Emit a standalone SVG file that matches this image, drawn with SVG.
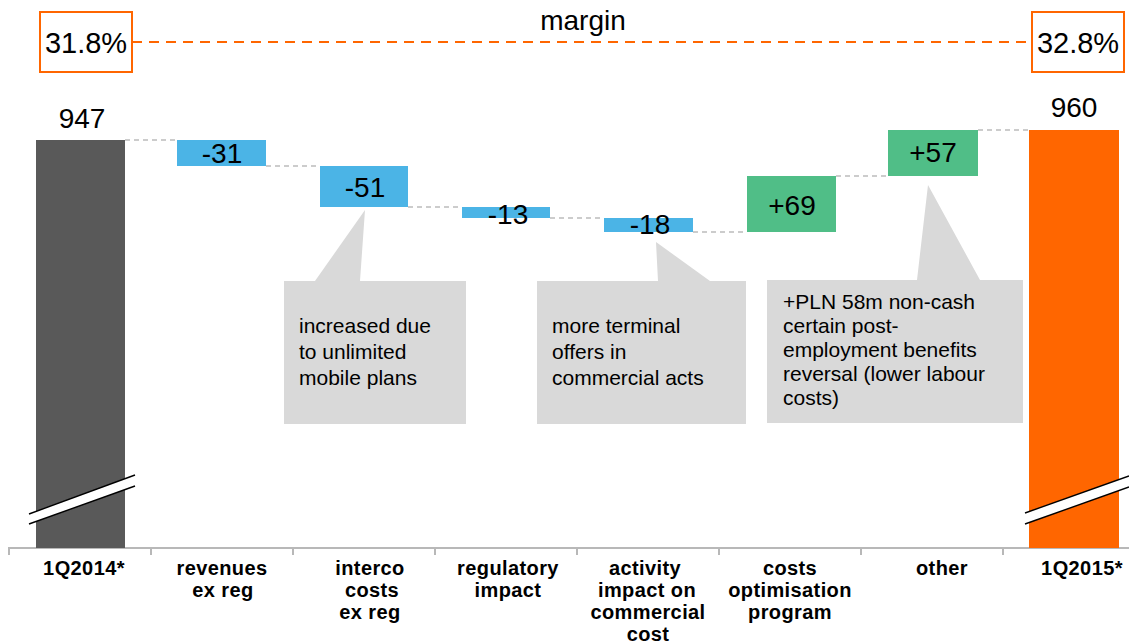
<svg xmlns="http://www.w3.org/2000/svg" width="1129" height="643" viewBox="0 0 1129 643">
<style>
text{font-family:"Liberation Sans",Arial,sans-serif;fill:#000}
.num{font-size:28px;text-anchor:middle}
.cat{font-size:20px;font-weight:bold;text-anchor:middle;letter-spacing:0.4px}
.note{font-size:21px}
.conn{stroke:#9a9a9a;stroke-width:1.2;stroke-dasharray:5 4;fill:none}
.blue{fill:#4bb4e6}
.green{fill:#50be87}
.call{fill:#d9d9d9}
.brk{stroke:#000;stroke-width:1.4}
</style>
<rect width="1129" height="643" fill="#fff"/>

<g id="axis">
<line x1="8" y1="548" x2="1129" y2="548" stroke="#b8b8b8" stroke-width="2"/>
<path d="M9 548v7M151 548v7M293 548v7M435 548v7M577 548v7M719 548v7M861 548v7M1003 548v7" stroke="#b8b8b8" stroke-width="2"/>
</g>

<g id="connectors">
<line class="conn" x1="125" y1="140" x2="177" y2="140"/>
<line class="conn" x1="266" y1="166" x2="320" y2="166"/>
<line class="conn" x1="408" y1="207" x2="462" y2="207"/>
<line class="conn" x1="550" y1="218" x2="604" y2="218"/>
<line class="conn" x1="693" y1="232" x2="747" y2="232"/>
<line class="conn" x1="836" y1="176" x2="888" y2="176"/>
<line class="conn" x1="978" y1="130" x2="1029" y2="130"/>
<line x1="132" y1="42" x2="1032" y2="42" stroke="#ff6600" stroke-width="2" stroke-dasharray="10 7"/>
</g>

<g id="margin-title"><text x="583" y="30" font-size="28" text-anchor="middle">margin</text></g>
<g id="margin-left">
<rect x="40" y="12" width="92" height="60" fill="#fff" stroke="#ff6600" stroke-width="2"/>
<text x="86" y="53" font-size="29" text-anchor="middle">31.8%</text>
</g>
<g id="margin-right">
<rect x="1032" y="12" width="92" height="60" fill="#fff" stroke="#ff6600" stroke-width="2"/>
<text x="1078" y="53" font-size="29" text-anchor="middle">32.8%</text>
</g>

<g id="bar-1q2014">
<rect x="36" y="140" width="89" height="408" fill="#595959"/>
<polygon points="29,514 135,475 135,486 29,524" fill="#fff"/>
<line class="brk" x1="29" y1="514" x2="135" y2="475"/>
<line class="brk" x1="29" y1="524" x2="135" y2="486"/>
<text class="num" x="82" y="128">947</text>
<text class="cat" x="84" y="575">1Q2014*</text>
</g>

<g id="bar-revenues">
<rect class="blue" x="177" y="140" width="89" height="26"/>
<text class="num" x="222" y="163">-31</text>
<text class="cat" x="222" y="575">revenues</text>
<text class="cat" x="223" y="597">ex reg</text>
</g>

<g id="bar-interco">
<rect class="blue" x="320" y="166" width="88" height="41"/>
<text class="num" x="365" y="197">-51</text>
<text class="cat" x="370" y="575">interco</text>
<text class="cat" x="372" y="597">costs</text>
<text class="cat" x="370" y="619">ex reg</text>
</g>

<g id="bar-regulatory">
<rect class="blue" x="462" y="207" width="88" height="11"/>
<text class="num" x="508" y="224">-13</text>
<text class="cat" x="508" y="575">regulatory</text>
<text class="cat" x="508" y="597">impact</text>
</g>

<g id="bar-activity">
<rect class="blue" x="604" y="218" width="89" height="14"/>
<text class="num" x="650" y="234">-18</text>
<text class="cat" x="645" y="575">activity</text>
<text class="cat" x="647" y="597">impact on</text>
<text class="cat" x="648" y="619">commercial</text>
<text class="cat" x="648" y="641">cost</text>
</g>

<g id="bar-costs-optimisation">
<rect class="green" x="747" y="176" width="89" height="56"/>
<text class="num" x="792" y="215">+69</text>
<text class="cat" x="790" y="575">costs</text>
<text class="cat" x="790" y="597">optimisation</text>
<text class="cat" x="790" y="619">program</text>
</g>

<g id="bar-other">
<rect class="green" x="888" y="130" width="90" height="46"/>
<text class="num" x="933" y="162">+57</text>
<text class="cat" x="942" y="575">other</text>
</g>

<g id="bar-1q2015">
<rect x="1029" y="130" width="90" height="418" fill="#ff6600"/>
<polygon points="1025,513 1129,476 1129,487 1025,524" fill="#fff"/>
<line class="brk" x1="1025" y1="513" x2="1129" y2="476"/>
<line class="brk" x1="1025" y1="524" x2="1129" y2="487"/>
<text class="num" x="1074" y="117">960</text>
<text class="cat" x="1082" y="575">1Q2015*</text>
</g>

<g id="callout-interco">
<path class="call" d="M284 281H315L365 210L360 281H466V424H284Z"/>
<text class="note" x="299" y="333">increased due</text>
<text class="note" x="299" y="359">to unlimited</text>
<text class="note" x="299" y="385">mobile plans</text>
</g>

<g id="callout-activity">
<path class="call" d="M537 281H658L656 242L710 281H746V424H537Z"/>
<text class="note" x="552" y="333">more terminal</text>
<text class="note" x="552" y="359">offers in</text>
<text class="note" x="552" y="385">commercial acts</text>
</g>

<g id="callout-other">
<path class="call" d="M767 280H917L928 185L980 280H1023V423H767Z"/>
<text class="note" x="783" y="309">+PLN 58m non-cash</text>
<text class="note" x="783" y="333">certain post-</text>
<text class="note" x="783" y="357">employment benefits</text>
<text class="note" x="783" y="381">reversal (lower labour</text>
<text class="note" x="783" y="405">costs)</text>
</g>
</svg>
